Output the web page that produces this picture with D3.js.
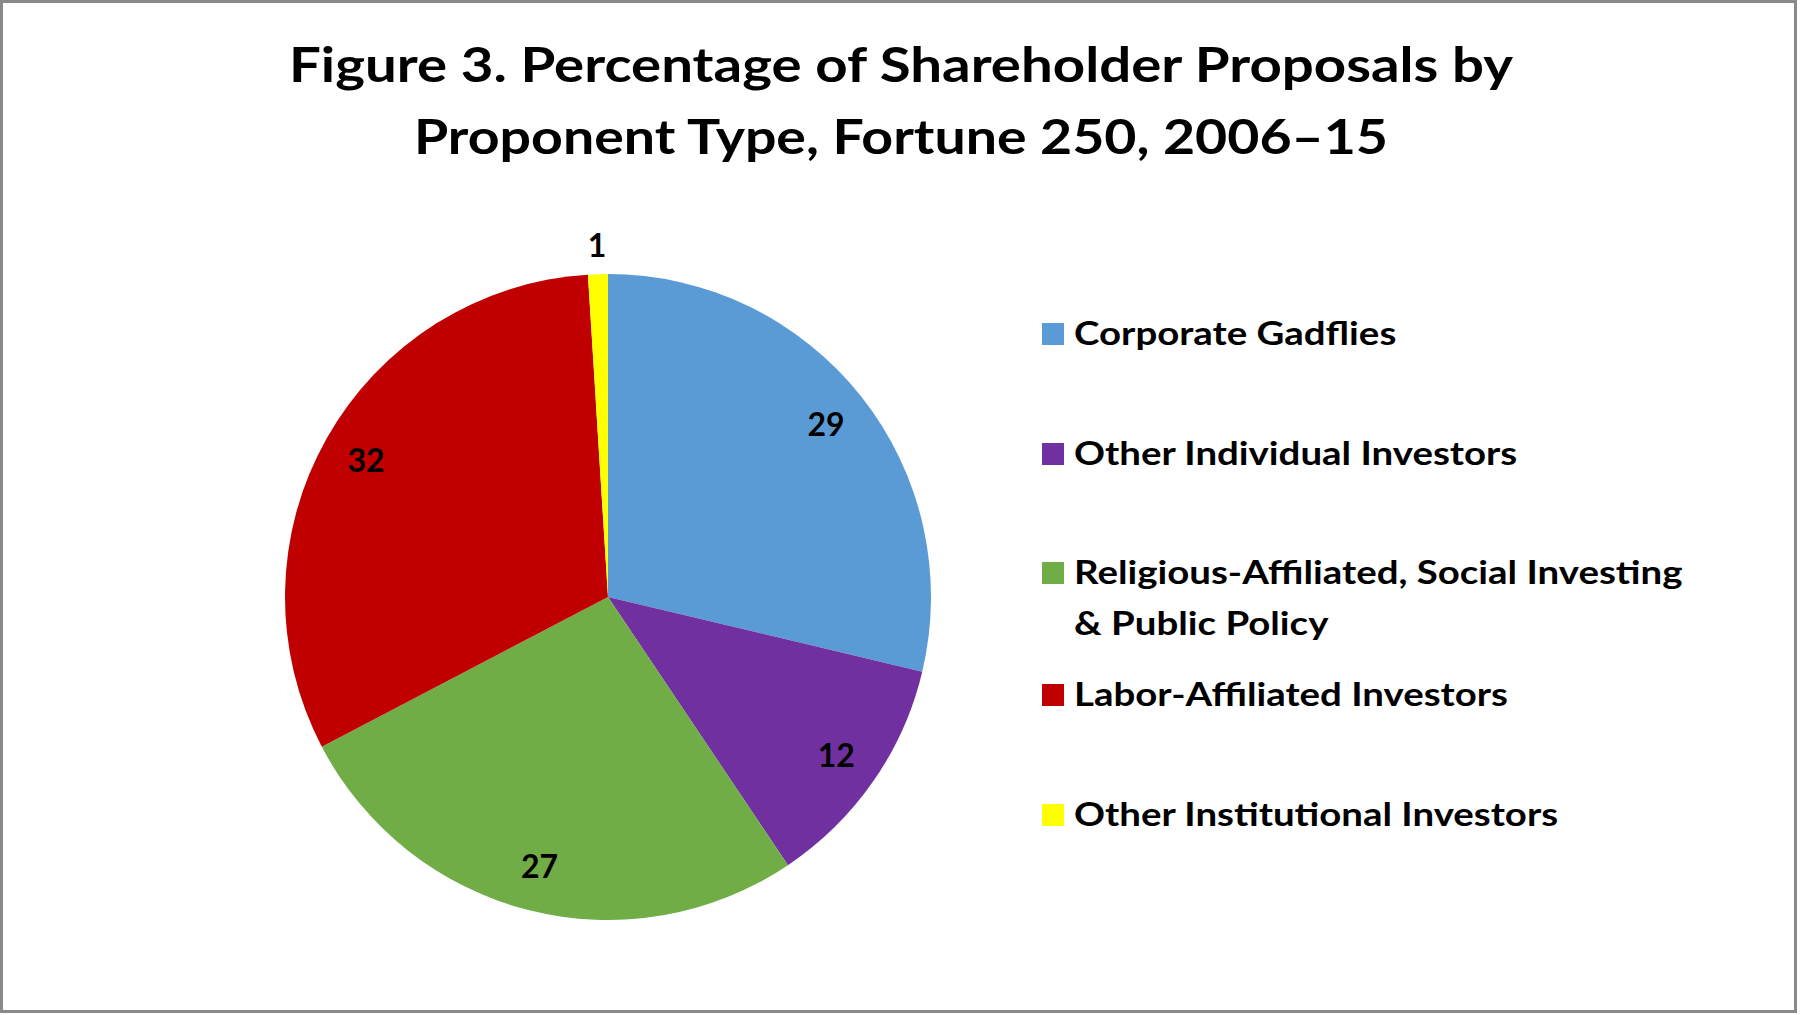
<!DOCTYPE html>
<html lang="en">
<head>
    <meta charset="UTF-8">
    <script src="https://d3js.org/d3.v7.min.js"></script>
    <title>Pie-chart</title>
    <style>
        html, body {
            margin: 0;
            padding: 0;
            background: #fff;
        }
        text {
            font-family: Lato, "Open Sans", sans-serif;
            font-weight: bold;
            fill: #000;
        }
    </style>
</head>

<body>
<div id="my_dataviz"></div>
<script>

    // data
    var categories = ["Corporate Gadflies", "Other Individual Investors",
        "Religious-Affiliated, Social Investing & Public Policy",
        "Labor-Affiliated Investors", "Other Institutional Investors"];
    var values = [29, 12, 27, 32, 1];
    var legendLines = [["Corporate Gadflies"], ["Other Individual Investors"],
        ["Religious-Affiliated, Social Investing", "& Public Policy"],
        ["Labor-Affiliated Investors"], ["Other Institutional Investors"]];
    var titleLines = ["Figure 3. Percentage of Shareholder Proposals by",
        "Proponent Type, Fortune 250, 2006\u201315"];
    var colors = ["#5b9bd5", "#7030a0", "#70ad47", "#c00000", "#ffff00"];

    var width = 1800,
        height = 1015,
        cx = 608, cy = 597,
        radius = 323;

    var svg = d3.select("#my_dataviz")
        .append("svg")
        .attr("width", width)
        .attr("height", height);

    // frame
    svg.append("rect")
        .attr("x", 1.5).attr("y", 1.5)
        .attr("width", 1794).attr("height", 1010)
        .attr("fill", "#fff")
        .attr("stroke", "#8a8a8a")
        .attr("stroke-width", 3);

    // title
    var titleWidths = [1224, 974];
    svg.selectAll(".title")
        .data(titleLines)
        .enter().append("text")
        .attr("class", "title")
        .attr("x", 901)
        .attr("y", function(d, i) { return 82 + i * 72; })
        .attr("text-anchor", "middle")
        .style("font-size", "48px")
        .attr("textLength", function(d, i) { return titleWidths[i]; })
        .attr("lengthAdjust", "spacingAndGlyphs")
        .text(function(d) { return d; });

    // pie
    var color = d3.scaleOrdinal().domain(categories).range(colors);
    var pie = d3.pie().sort(null).value(function(d) { return d.value; });
    var slices = pie(categories.map(function(c, i) { return {name: c, value: values[i]}; }));

    var arc = d3.arc().innerRadius(0).outerRadius(radius);
    var labelArc = d3.arc().innerRadius(radius * 0.86).outerRadius(radius * 0.86);
    var outerArc = d3.arc().innerRadius(radius + 29).outerRadius(radius + 29);

    var g = svg.append("g")
        .attr("transform", "translate(" + cx + "," + cy + ")");

    g.selectAll("path")
        .data(slices)
        .enter().append("path")
        .attr("d", arc)
        .attr("fill", function(d) { return color(d.data.name); });

    g.selectAll(".label")
        .data(slices)
        .enter().append("text")
        .attr("class", "label")
        .attr("transform", function(d) {
            var p = d.data.value < 5 ? outerArc.centroid(d) : labelArc.centroid(d);
            return "translate(" + p[0] + "," + p[1] + ")";
        })
        .attr("text-anchor", "middle")
        .attr("dy", "0.36em")
        .style("font-size", "32px")
        .text(function(d) { return d.data.value; });

    // legend
    var legendY = [345, 465, 584, 706, 826];
    var legend = svg.selectAll(".legend")
        .data(legendLines)
        .enter().append("g")
        .attr("class", "legend")
        .attr("transform", function(d, i) { return "translate(1042," + legendY[i] + ")"; });

    legend.append("rect")
        .attr("x", 0).attr("y", -22)
        .attr("width", 22).attr("height", 22)
        .attr("fill", function(d, i) { return colors[i]; });

    // the original face is wider than Lato, so stretch each line a bit
    legend.selectAll("text")
        .data(function(d) { return d; })
        .enter().append("text")
        .attr("x", 32)
        .attr("y", function(d, j) { return j * 51; })
        .style("font-size", "32px")
        .text(function(d) { return d; })
        .each(function() {
            d3.select(this)
                .attr("textLength", this.getComputedTextLength() * 1.2)
                .attr("lengthAdjust", "spacingAndGlyphs");
        });

</script>
</body>
</html>
